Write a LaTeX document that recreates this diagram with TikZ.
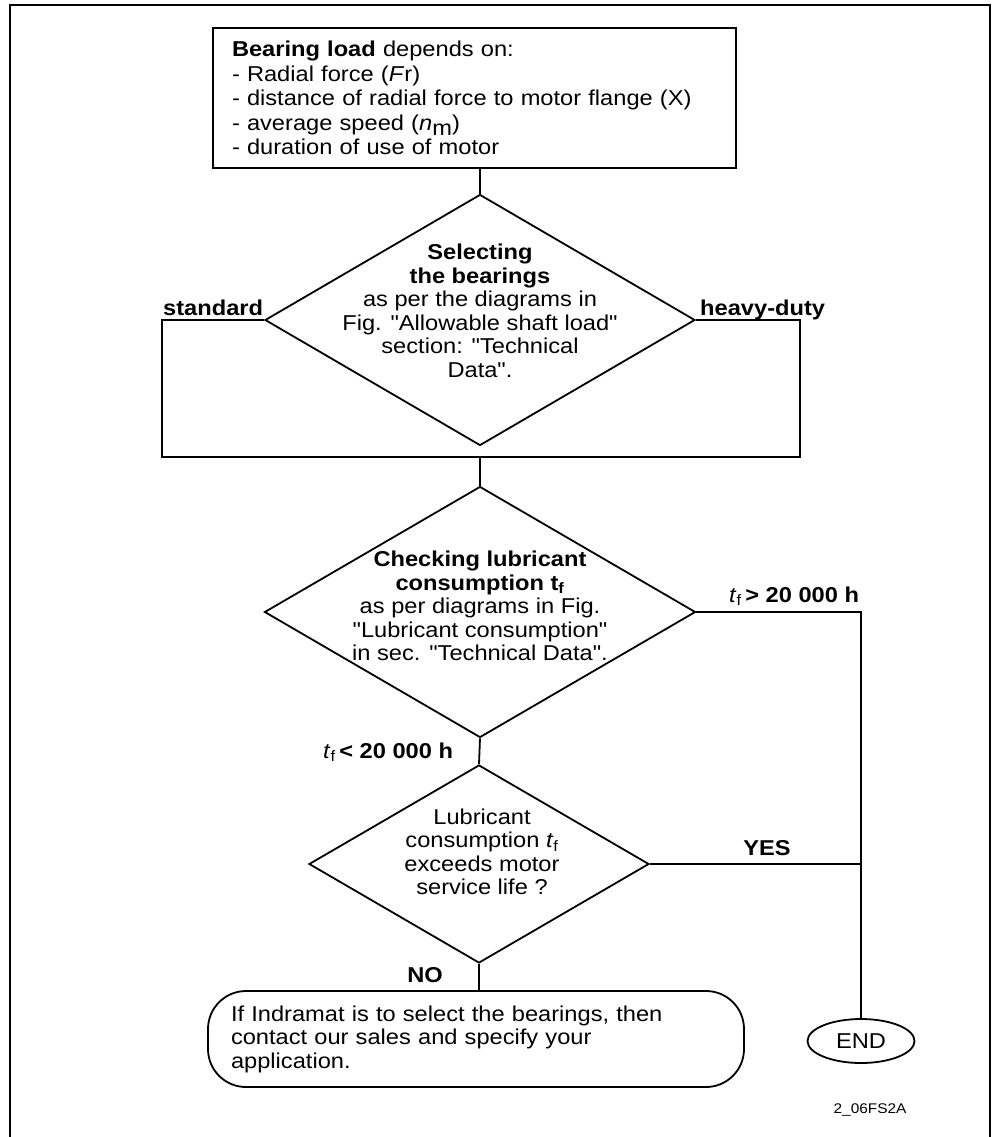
\documentclass[tikz,border=0pt]{standalone}
\usepackage{fontspec}
\setmainfont{Liberation Sans}[FakeStretch=1.1, Ligatures=TeXOff]
\usetikzlibrary{calc,positioning,shapes.geometric}

\tikzset{
  line/.style={line width=1.8pt},
  decision/.style={diamond, draw, line width=1.8pt, inner sep=0pt},
  dtext/.style={align=center, inner sep=0pt, font=\fontsize{21.5}{23.5}\selectfont},
  lbl/.style={inner sep=0pt, font=\bfseries\fontsize{21.5}{23.5}\selectfont},
}

\begin{document}
\begin{tikzpicture}[x=1pt,y=-1pt]
\useasboundingbox (0,0) rectangle (998,1137);
% frame, open at the bottom
\draw[line width=2.6pt] (10,1137) |- (990,5) -- (990,1137);

% boxes
\node[draw, line, minimum width=523pt, minimum height=140pt, text width=485pt,
      inner xsep=19pt, align=left, font=\fontsize{21.5}{24.5}\selectfont]
      (load) at (474.5,98)
      {\textbf{Bearing load} depends on:\\
       - Radial force (\textit{F}r)\\
       - distance of radial force to motor flange (X)\\
       - average speed (\textit{n}\raisebox{-5pt}{m})\\
       - duration of use of motor};

\node[decision, minimum width=430pt, minimum height=251pt] (sel) at (480,320) {};
\node[dtext] (seltxt) at (480,311)
      {\textbf{Selecting}\\ \textbf{the bearings}\\ as per the diagrams in\\
       Fig. "Allowable shaft load"\\ section: "Technical\\ Data".};

\node[decision, minimum width=431pt, minimum height=251pt] (chk) at (480,612) {};
\node[dtext] (chktxt) at (480,606)
      {\textbf{Checking lubricant}\\ \textbf{consumption t\textsubscript{f}}\\
       as per diagrams in Fig.\\ "Lubricant consumption"\\
       in sec. "Technical Data".};

\node[decision, minimum width=340pt, minimum height=198pt] (life) at (479,864) {};
\node[dtext] (lifetxt) at (482,852)
      {Lubricant\\ consumption \textit{t}\textsubscript{f}\\ exceeds motor\\ service life ?};

\node[draw, line, rounded corners=38pt, minimum width=536pt, minimum height=96pt,
      text width=490pt, inner xsep=23pt, align=left,
      font=\fontsize{21.5}{23.5}\selectfont]
      (info) at (476,1039)
      {If Indramat is to select the bearings, then\\
       contact our sales and specify your\\ application.};

\node[ellipse, draw, line, minimum width=107pt, minimum height=44pt, inner sep=0pt,
      font=\fontsize{21.5}{23.5}\selectfont] (end) at (861,1041) {END};

% connectors
\coordinate (stdcorner) at (162,320);
\coordinate (hvycorner) at (800,320);
\coordinate (join) at (480,457);
\coordinate (rtop) at (861,612);

\draw[line] (sel.north |- load.south) -- (sel.north);
\draw[line] (sel.west) -- (stdcorner) |- (join) -| (hvycorner) -- (sel.east);
\draw[line] (join) -- (chk.north);
\draw[line] (chk.south) -- (life.north);
\draw[line] (chk.east) -- (rtop) -- (end.north);
\draw[line] (life.east) -- (life.east -| rtop);
\draw[line] (life.south) -- (life.south |- info.north);

% labels
\node[lbl, anchor=base west] (std) at (163,315) {standard};
\node[lbl, anchor=base west] (hvy) at (700,315) {heavy-duty};
\node[lbl, anchor=base west] (tgt) at (729,602)
      {\mdseries\textit{t}\textsubscript{f}\,\bfseries> 20 000 h};
\node[lbl, anchor=base west] (tlt) at (323,758)
      {\mdseries\textit{t}\textsubscript{f}\,\bfseries< 20 000 h};
\node[lbl] (yes) at (767,848) {YES};
\node[lbl] (no) at (425,975) {NO};
\node[inner sep=0pt, font=\fontsize{14}{16}\selectfont] (code) at (870,1110) {2\_06FS2A};
\end{tikzpicture}
\end{document}
